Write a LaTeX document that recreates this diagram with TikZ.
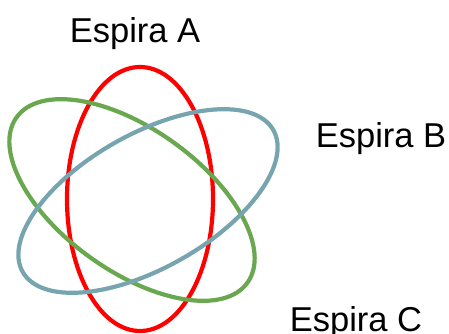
\documentclass[tikz,border=0pt]{standalone}
\usepackage{fontspec}
\setmainfont{Liberation Sans}
\usepackage{xcolor}
\definecolor{loopred}{RGB}{255,0,0}
\definecolor{loopgreen}{RGB}{106,168,79}
\definecolor{loopblue}{RGB}{118,165,175}

\begin{document}
\begin{tikzpicture}[x=1pt, y=1pt, font=\fontsize{34.5}{40}\selectfont,
  espira/.style={line width=4.2pt}]
\useasboundingbox (0,0) rectangle (449,334);
% the three loops
\draw[espira, loopred] (140,135) ellipse [x radius=73, y radius=132];
\draw[espira, loopgreen, rotate around={-35.6:(132,134)}] (132,134) ellipse [x radius=142, y radius=71];
\draw[espira, loopblue, rotate around={29.5:(148,133)}] (148,133) ellipse [x radius=144, y radius=67];
% labels
\node[anchor=base] (espA) at (135,291){Espira A};
\node[anchor=base] (espB) at (381,186){Espira B};
\node[anchor=base] (espC) at (356,2){Espira C};
\end{tikzpicture}
\end{document}
